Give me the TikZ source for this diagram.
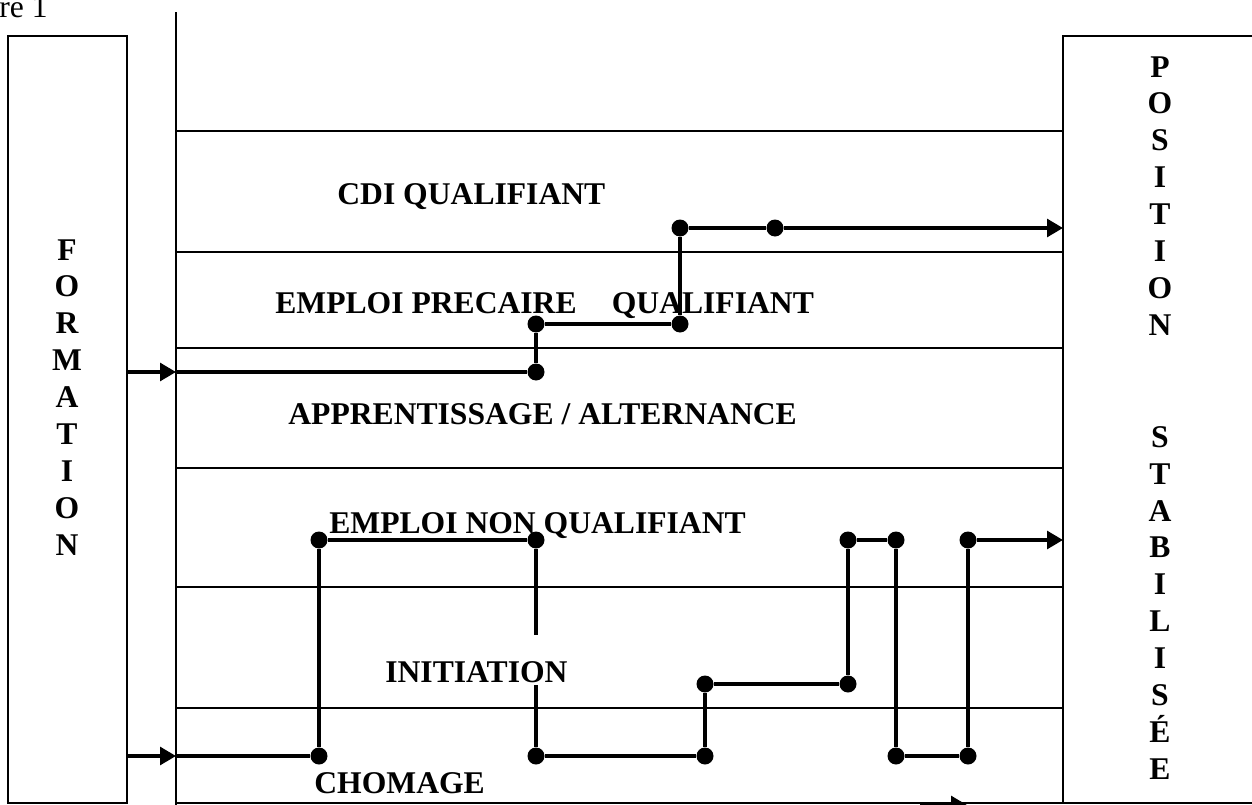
\documentclass[tikz,border=0pt]{standalone}
\usepackage{fontspec}
\setmainfont{Liberation Serif}
\usetikzlibrary{arrows.meta}

\tikzset{
  couloir/.style={line width=1.1pt},
  trajet/.style={line width=2pt},
  fleche/.style={line width=2pt, -{Triangle[length=9pt, width=10pt]}},
  etape/.style={circle, fill=black, inner sep=0pt, minimum size=0.34cm},
  etiquette/.style={font=\fontsize{18}{21}\selectfont\bfseries, inner sep=0pt, anchor=base west},
  colonne/.style={font=\fontsize{18}{21}\selectfont\bfseries, inner sep=0pt, align=center, anchor=north},
}

\begin{document}
\begin{tikzpicture}[x=0.02cm, y=-0.02cm]
  \useasboundingbox (0,0) rectangle (1252,805);
  \clip (0,0) rectangle (1252,805);

  % cadres
  \draw[couloir] (8,36) rectangle (127,803);
  \draw[couloir] (1063,36) rectangle (1280,803);
  \draw[couloir] (176,12) -- (176,810);
  \foreach \y in {131, 252, 348, 468, 587, 708, 803}
    \draw[couloir] (176,\y) -- (1063,\y);

  \node[anchor=base east, inner sep=0pt, font=\fontsize{18}{21}\selectfont] (titre) at (48,17) {re 1};

  % colonnes verticales
  \node[colonne] (formation) at (67,239) {F\\O\\R\\M\\A\\T\\I\\O\\N};
  \node[colonne] (position) at (1160,56) {P\\O\\S\\I\\T\\I\\O\\N};
  \node[colonne] (stabilisee) at (1160,426) {S\\T\\A\\B\\I\\L\\I\\S\\É\\E};

  % couloirs
  \node[etiquette] (cdi) at (337,204) {CDI QUALIFIANT};
  \node[etiquette] (precaire) at (275,313) {EMPLOI PRECAIRE\hspace{20pt}QUALIFIANT};
  \node[etiquette] (apprent) at (288,424) {APPRENTISSAGE / ALTERNANCE};
  \node[etiquette] (nonqual) at (329,533) {EMPLOI NON QUALIFIANT};
  \node[etiquette] (initiation) at (385,682) {INITIATION};
  \node[etiquette] (chomage) at (314,793) {CHOMAGE};

  % parcours du haut
  \coordinate (f1) at (127,372);
  \coordinate (v1) at (176,372);
  \node[etape] (d1) at (536,372) {};
  \node[etape] (d2) at (536,324) {};
  \node[etape] (d3) at (680,324) {};
  \node[etape] (d4) at (680,228) {};
  \node[etape] (d5) at (775,228) {};
  \coordinate (p1) at (1063,228);
  \draw[fleche] (f1) -- (v1);
  \draw[trajet] (v1) -- (d1) -- (d2) -- (d3) -- (d4) -- (d5);
  \draw[fleche] (d5) -- (p1);

  % parcours du bas
  \coordinate (f2) at (127,756);
  \coordinate (v2) at (176,756);
  \node[etape] (e1) at (319,756) {};
  \node[etape] (e2) at (319,540) {};
  \node[etape] (e3) at (536,540) {};
  \coordinate (c1) at (536,635);
  \coordinate (c2) at (536,685);
  \node[etape] (e4) at (536,756) {};
  \node[etape] (e5) at (705,756) {};
  \node[etape] (e6) at (705,684) {};
  \node[etape] (e7) at (848,684) {};
  \node[etape] (e8) at (848,540) {};
  \node[etape] (e9) at (896,540) {};
  \node[etape] (e10) at (896,756) {};
  \node[etape] (e11) at (968,756) {};
  \node[etape] (e12) at (968,540) {};
  \coordinate (p2) at (1063,540);
  \draw[fleche] (f2) -- (v2);
  \draw[trajet] (v2) -- (e1) -- (e2) -- (e3) -- (c1);
  \draw[trajet] (c2) -- (e4) -- (e5) -- (e6) -- (e7) -- (e8) -- (e9) -- (e10) -- (e11) -- (e12);
  \draw[fleche] (e12) -- (p2);

  % fleche coupee en bas
  \coordinate (b1) at (920,805);
  \coordinate (b2) at (967,805);
  \draw[fleche] (b1) -- (b2);
\end{tikzpicture}
\end{document}
